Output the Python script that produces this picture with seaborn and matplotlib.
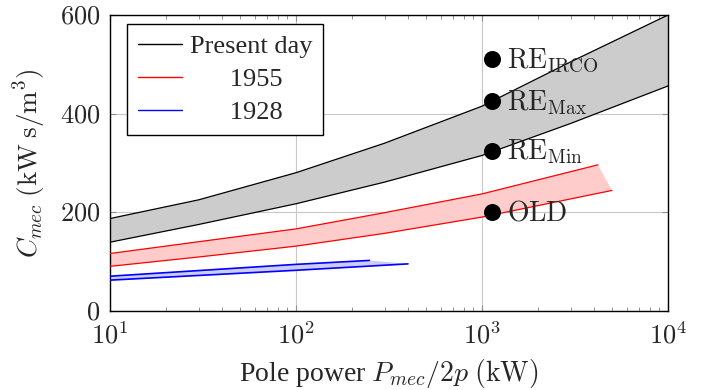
import numpy as np
import pandas as pd
import matplotlib
matplotlib.use("Agg")
import matplotlib.pyplot as plt
from matplotlib.lines import Line2D
from matplotlib.ticker import FixedLocator, FixedFormatter, LogLocator, NullFormatter
import seaborn as sns

# ---------------- data ----------------
present_x = [10, 30, 100, 300, 1000, 3000, 10000]
present_upper = [187, 225, 280, 340, 415, 505, 600]
present_lower = [139, 175, 217, 261, 315, 380, 456]

y1955_x_upper = [10, 30, 100, 300, 1000, 4200]
y1955_upper = [116, 140, 166, 199, 237, 296]
y1955_x_lower = [10, 30, 100, 300, 1000, 5000]
y1955_lower = [90, 109, 131, 157, 190, 244]

y1928_x_upper = [10, 100, 248]
y1928_upper = [70, 94, 102]
y1928_x_lower = [10, 100, 400]
y1928_lower = [62, 82, 95]

point_labels = [r"$\mathrm{RE}_{\mathrm{IRCO}}$", r"$\mathrm{RE}_{\mathrm{Max}}$",
                r"$\mathrm{RE}_{\mathrm{Min}}$", r"$\mathrm{OLD}$"]
point_x = [1130, 1130, 1130, 1130]
point_y = [510, 425, 325, 200]

legend_labels = ["Present day", "      1955", "      1928"]
xtick_vals = [10, 100, 1000, 10000]
xtick_labels = [r"$10^{1}$", r"$10^{2}$", r"$10^{3}$", r"$10^{4}$"]
ytick_vals = [0, 200, 400, 600]
ytick_labels = [r"$0$", r"$200$", r"$400$", r"$600$"]

# ---------------- style ----------------
sns.set_style("white")
plt.rcParams["font.family"] = ["Liberation Serif", "DejaVu Serif"]
plt.rcParams["mathtext.fontset"] = "cm"

fig = plt.figure(figsize=(7.17, 3.90), dpi=100)
ax = fig.add_axes([110 / 717, 1 - 310.7 / 390, (668 - 110) / 717, (310.7 - 15) / 390])
ax.set_xscale("log")

series = [
    ("black", "#cccccc", present_x, present_upper, present_x, present_lower, 0.9),
    ("#ff0000", "#ffcccc", y1955_x_upper, y1955_upper, y1955_x_lower, y1955_lower, 0.9),
    ("#0000ff", "#ccccff", y1928_x_upper, y1928_upper, y1928_x_lower, y1928_lower, 1.2),
]

for col, fillc, xu, yu, xl, yl, lw in series:
    px = np.concatenate([np.array(xu, float), np.array(xl, float)[::-1]])
    py = np.concatenate([np.array(yu, float), np.array(yl, float)[::-1]])
    ax.fill(px, py, color=fillc, lw=0, zorder=1)
    sns.lineplot(x=xu, y=yu, color=col, lw=lw, ax=ax, sort=False, estimator=None, zorder=3)
    sns.lineplot(x=xl, y=yl, color=col, lw=lw, ax=ax, sort=False, estimator=None, zorder=3)

sns.scatterplot(x=point_x, y=point_y, color="black", s=150, edgecolor="black",
                linewidth=0, ax=ax, zorder=5)
for lab, xx, yy in zip(point_labels, point_x, point_y):
    ax.annotate(lab, (xx, yy), xytext=(11, -1), textcoords="offset points",
                ha="left", va="center", fontsize=20, zorder=6)

ax.set_xlim(10, 10000)
ax.set_ylim(0, 600)

ax.xaxis.set_major_locator(FixedLocator(xtick_vals))
ax.xaxis.set_major_formatter(FixedFormatter(xtick_labels))
ax.xaxis.set_minor_locator(LogLocator(base=10, subs=np.arange(2, 10)))
ax.xaxis.set_minor_formatter(NullFormatter())
ax.yaxis.set_major_locator(FixedLocator(ytick_vals))
ax.yaxis.set_major_formatter(FixedFormatter(ytick_labels))

ax.grid(True, which="major", color="#c8c8c8", lw=0.8, zorder=0)
ax.set_axisbelow(True)
ax.tick_params(which="both", direction="in", top=True, right=True, bottom=True, left=True,
               color="#909090")
ax.tick_params(which="major", length=4.5, width=0.8, labelsize=19)
ax.tick_params(axis="x", which="major", pad=8)
ax.tick_params(axis="y", which="major", pad=7)
ax.tick_params(which="minor", length=3, width=0.7)
for sp in ax.spines.values():
    sp.set_color("black")
    sp.set_linewidth(1.0)

ax.set_xlabel(r"Pole power $P_{mec}/2p$ $(\mathrm{kW})$", fontsize=20, labelpad=6)
ax.set_ylabel(r"$C_{mec}$ $(\mathrm{kW\;s/m^3})$", fontsize=19.5, labelpad=8)

handles = [Line2D([], [], color=c, lw=1.0) for c in ["black", "#ff0000", "#0000ff"]]
leg = ax.legend(handles, legend_labels, loc="upper left",
                bbox_to_anchor=(0.0305, 0.9696), borderaxespad=0, fontsize=19,
                frameon=True, fancybox=False, framealpha=1, edgecolor="black",
                handlelength=1.7, handletextpad=0.3, labelspacing=0.37, borderpad=0.4)
leg.get_frame().set_linewidth(1.0)
leg.set_zorder(10)

fig.savefig("out.png", dpi=100)
